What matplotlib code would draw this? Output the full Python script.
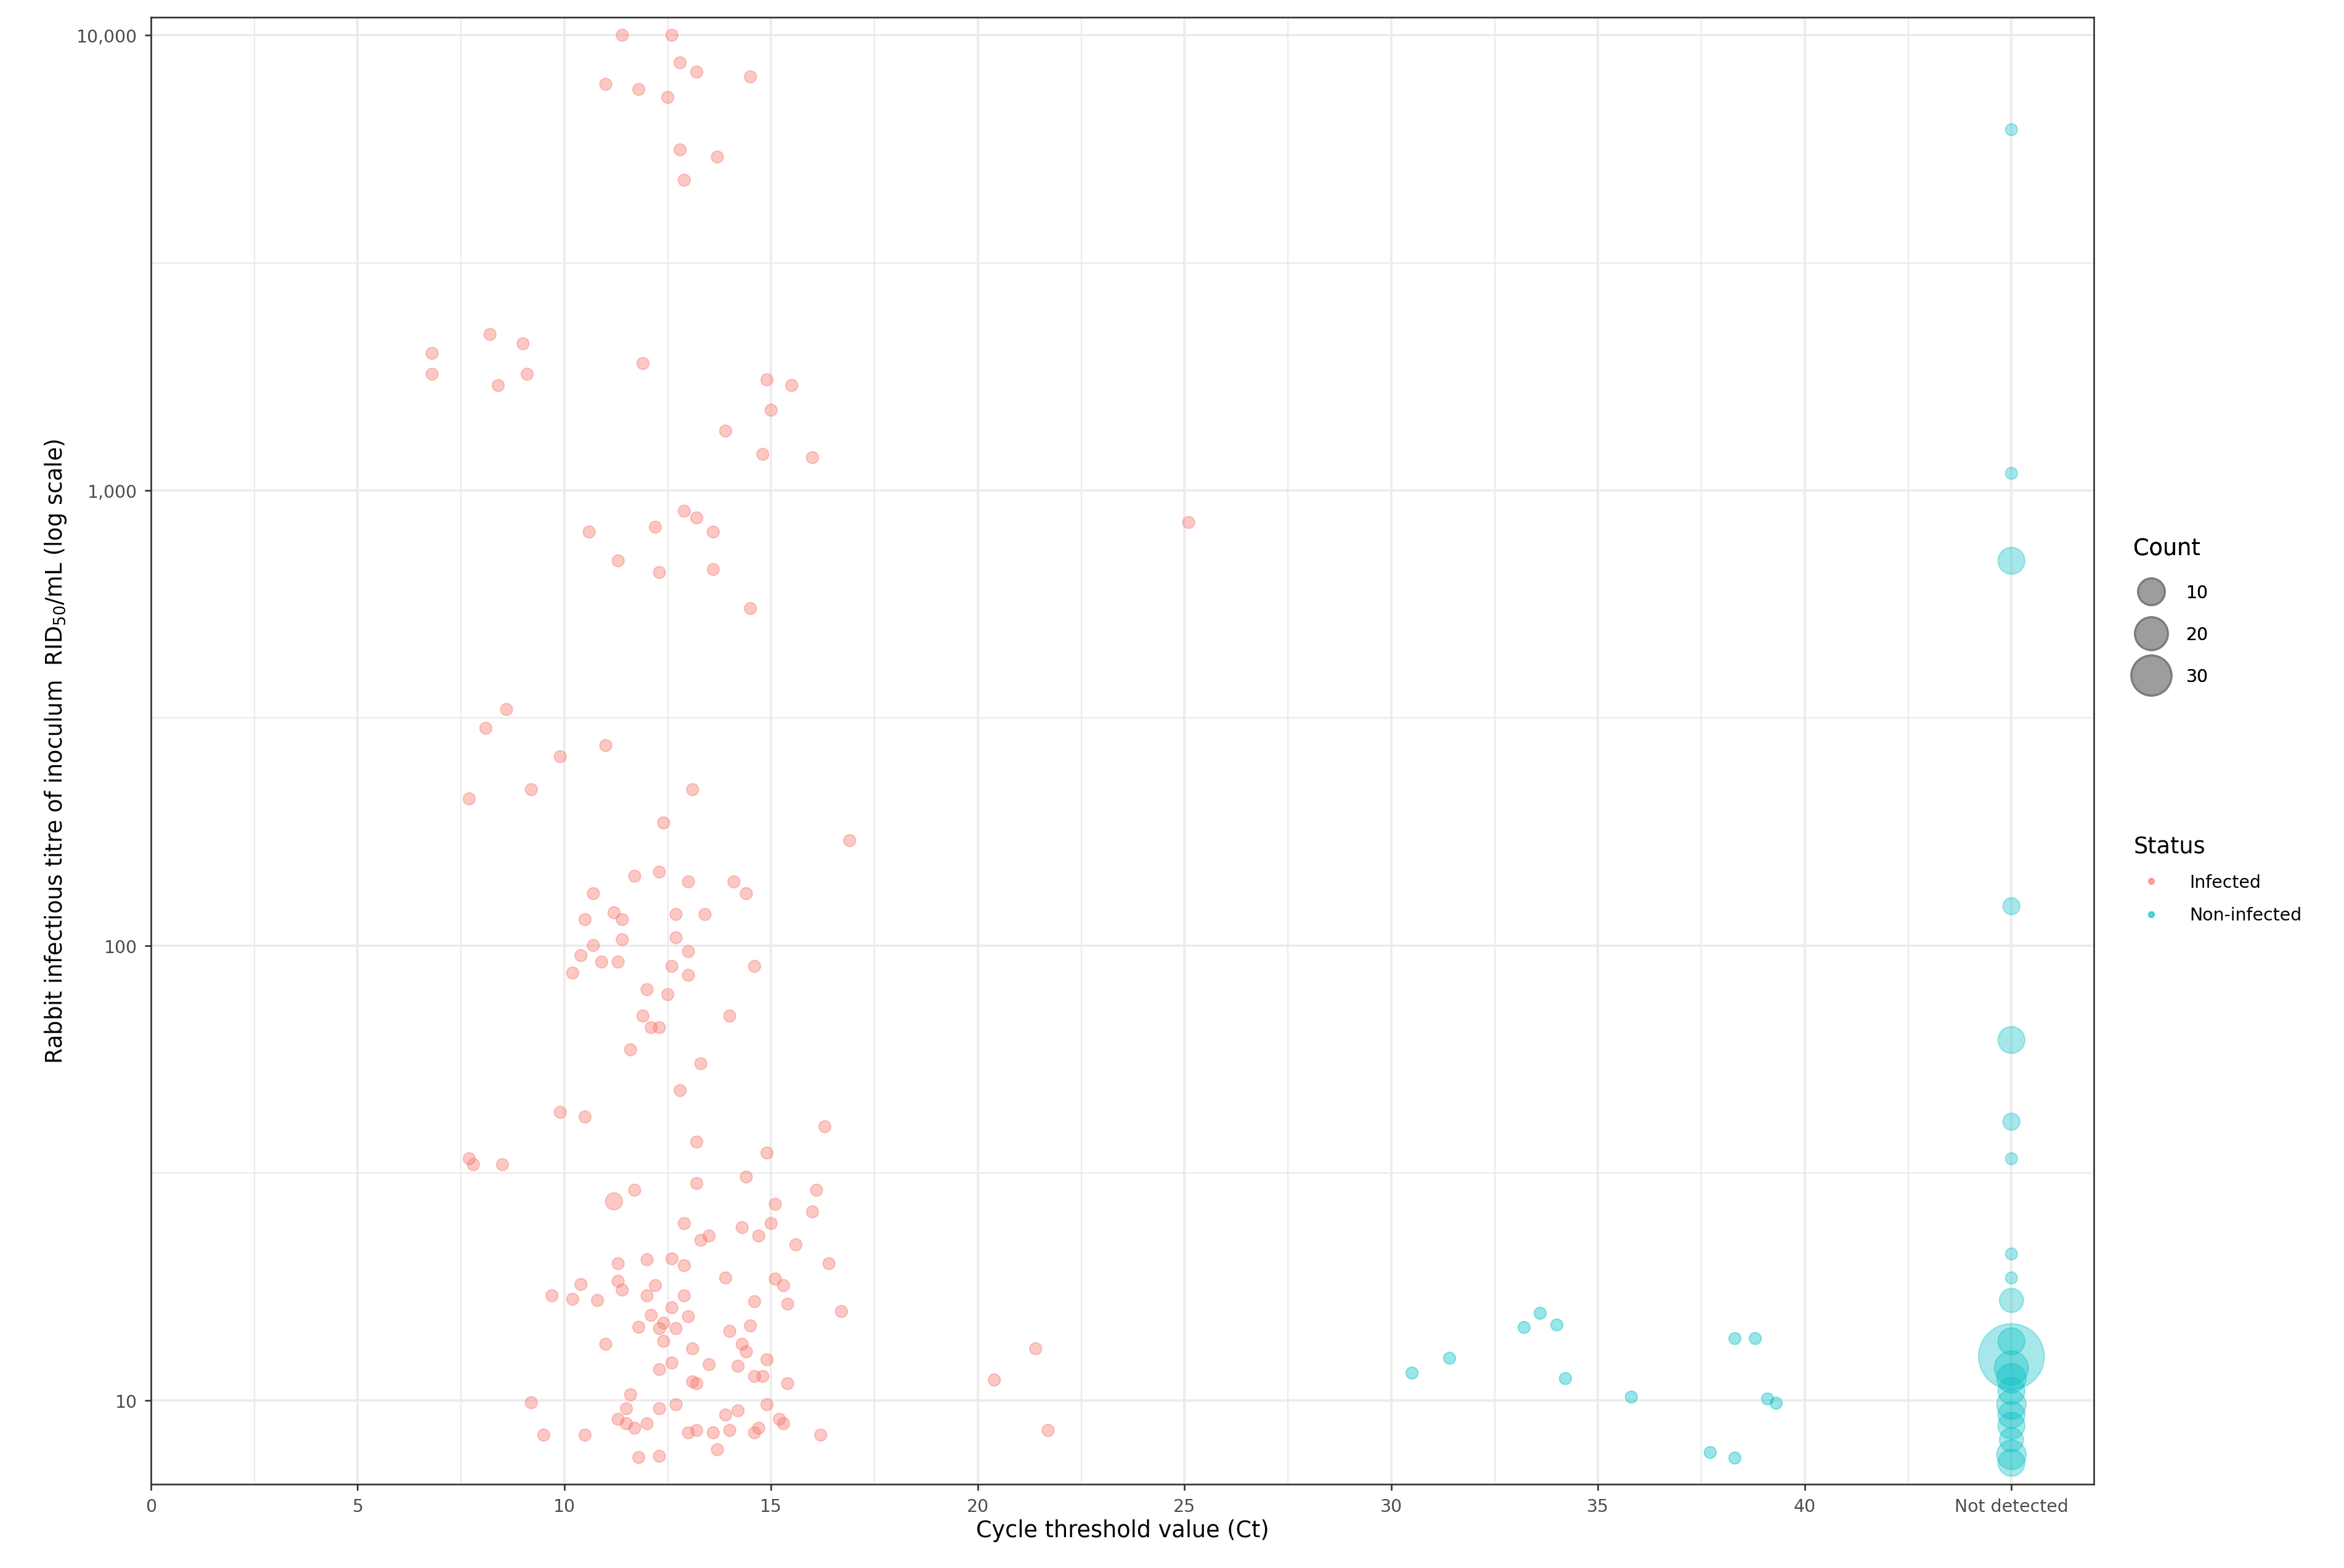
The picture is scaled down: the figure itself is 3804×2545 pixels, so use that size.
import numpy as np
import matplotlib.pyplot as plt
from matplotlib.lines import Line2D
from matplotlib.ticker import FixedLocator, NullFormatter

# Infected samples: Ct value and titre
inf_ct = [11.4, 12.6, 12.8, 13.2, 14.5, 11.0, 11.8, 12.5, 12.8, 13.7, 12.9,
          6.8, 6.8, 8.2, 9.0, 8.4, 9.1, 11.9, 14.9, 15.5, 15.0, 13.9, 14.8, 16.0,
          12.9, 13.2, 10.6, 12.2, 13.6, 11.3, 12.3, 13.6, 14.5, 25.1,
          8.1, 8.6, 11.0, 9.9, 7.7, 9.2, 13.1, 12.4, 16.9,
          11.7, 12.3, 13.0, 14.1, 14.4, 10.7, 11.2, 11.4, 10.5, 12.7, 13.4, 12.7, 11.4,
          10.7, 10.4, 10.9, 11.3, 13.0, 12.6, 14.6, 10.2, 13.0, 12.0, 12.5, 11.9, 14.0,
          12.1, 12.3, 11.6, 13.3, 12.8, 9.9, 10.5, 16.3, 7.7, 7.8, 8.5, 13.2, 14.9, 14.4,
          11.7, 13.2, 16.1, 15.1, 16.0, 12.9, 14.3, 15.0, 13.5, 13.3, 14.7, 15.6,
          12.6, 12.0, 12.9, 11.3, 16.4, 13.9, 10.4, 11.3, 12.2, 15.1, 15.3,
          9.7, 10.2, 10.8, 11.4, 12.0, 12.9, 14.6, 15.4, 16.7, 12.6, 12.1, 13.0, 12.4,
          11.8, 12.3, 12.7, 14.5, 14.0, 11.0, 12.4, 13.1, 14.3, 14.4, 14.9, 12.6, 13.5,
          14.2, 12.3, 13.1, 13.2, 14.6, 14.8, 15.4, 11.6, 11.5, 12.7, 12.3, 13.9, 14.2,
          14.9, 9.2, 11.3, 11.5, 11.7, 12.0, 13.0, 13.2, 13.6, 14.0, 14.6, 14.7, 15.2,
          15.3, 9.5, 10.5, 16.2, 13.7, 11.8, 12.3, 20.4, 21.4, 21.7, 11.2]
inf_titre = [10000, 10000, 8700, 8300, 8100, 7800, 7600, 7300, 5600, 5400, 4800,
             2000, 1800, 2200, 2100, 1700, 1800, 1900, 1750, 1700, 1500, 1350, 1200, 1180,
             900, 870, 810, 830, 810, 700, 660, 670, 550, 850,
             300, 330, 275, 260, 210, 220, 220, 186, 170,
             142, 145, 138, 138, 130, 130, 118, 114, 114, 117, 117, 104, 103,
             100, 95, 92, 92, 97, 90, 90, 87, 86, 80, 78, 70, 70,
             66, 66, 59, 55, 48, 43, 42, 40, 34, 33, 33, 37, 35, 31,
             29, 30, 29, 27, 26, 24.5, 24, 24.5, 23, 22.5, 23, 22,
             20.5, 20.4, 19.8, 20, 20, 18.6, 18, 18.3, 17.9, 18.5, 17.9,
             17, 16.7, 16.6, 17.5, 17, 17, 16.5, 16.3, 15.7, 16, 15.4, 15.3, 14.8,
             14.5, 14.4, 14.4, 14.6, 14.2, 13.3, 13.5, 13.0, 13.3, 12.8, 12.3, 12.1, 12.0,
             11.9, 11.7, 11.0, 10.9, 11.3, 11.3, 10.9, 10.3, 9.6, 9.8, 9.6, 9.3, 9.5,
             9.8, 9.9, 9.1, 8.9, 8.7, 8.9, 8.5, 8.6, 8.5, 8.6, 8.5, 8.7, 9.1,
             8.9, 8.4, 8.4, 8.4, 7.8, 7.5, 7.55, 11.1, 13.0, 8.6, 27.4]
inf_count = [1] * (len(inf_ct) - 1) + [2]

# Non-infected samples with a Ct value
non_ct = [30.5, 31.4, 33.2, 33.6, 34.0, 34.2, 35.8, 37.7, 38.3, 38.3, 38.8, 39.1, 39.3]
non_titre = [11.5, 12.4, 14.5, 15.6, 14.7, 11.2, 10.2, 7.7, 13.7, 7.5, 13.7, 10.1, 9.9]

# Non-infected, not detected (plotted at x = 45)
nd_titre = [6200, 1090, 700, 122, 62, 41, 34, 21, 18.6, 16.6,
            13.5, 12.5, 11.8, 11.2, 10.5, 9.8, 9.3, 8.8, 8.2, 7.6, 7.3]
nd_count = [1, 1, 5, 2, 5, 2, 1, 1, 1, 4,
            5, 30, 8, 6, 5, 6, 5, 5, 4, 6, 5]
ND_X = 45

RED = '#F8766D'
CYAN = '#00BFC4'
S1 = 34

fig = plt.figure(figsize=(15.85, 10.6083), dpi=240)
ax = fig.add_axes([0.0644, 0.0534, 0.829, 0.9352])

ax.scatter(inf_ct, inf_titre, s=np.array(inf_count) * S1, color=RED, alpha=0.4,
           edgecolors=RED, linewidths=0.6, zorder=3)
ax.scatter(non_ct, non_titre, s=S1, color=CYAN, alpha=0.4,
           edgecolors=CYAN, linewidths=0.6, zorder=3)
ax.scatter([ND_X] * len(nd_titre), nd_titre, s=np.array(nd_count) * S1, color=CYAN,
           alpha=0.35, edgecolors=CYAN, linewidths=0.6, zorder=3)

ax.set_yscale('log')
ax.set_xlim(0, 47)
ax.set_ylim(6.55, 10950)
ax.set_xticks([0, 5, 10, 15, 20, 25, 30, 35, 40, 45])
ax.set_xticklabels(['0', '5', '10', '15', '20', '25', '30', '35', '40', 'Not detected'])
ax.set_xticks([2.5, 7.5, 12.5, 17.5, 22.5, 27.5, 32.5, 37.5, 42.5], minor=True)
ax.set_yticks([10, 100, 1000, 10000])
ax.set_yticklabels(['10', '100', '1,000', '10,000'])
ax.yaxis.set_minor_locator(FixedLocator([10 ** 1.5, 10 ** 2.5, 10 ** 3.5]))
ax.yaxis.set_minor_formatter(NullFormatter())
ax.grid(True, which='major', color='#EBEBEB', linewidth=1.1)
ax.grid(True, which='minor', color='#EBEBEB', linewidth=0.7)
ax.set_axisbelow(True)
ax.tick_params(which='minor', length=0)
ax.tick_params(which='major', length=3, color='#333333', labelsize=8.5, labelcolor='#4D4D4D')
for sp in ax.spines.values():
    sp.set_color('#333333')
    sp.set_linewidth(0.8)

ax.set_xlabel('Cycle threshold value (Ct)', fontsize=11, labelpad=2)
ax.set_ylabel('Rabbit infectious titre of inoculum  RID$_{50}$/mL (log scale)', fontsize=11)

# Count legend
count_handles = [Line2D([], [], marker='o', linestyle='', markerfacecolor='#999999',
                        markeredgecolor='#777777', alpha=0.8, markersize=m)
                 for m in [13, 16, 19.5]]
leg1 = fig.legend(count_handles, ['10', '20', '30'], title='Count',
                  loc='upper left', bbox_to_anchor=(0.905, 0.665), frameon=False,
                  fontsize=8.5, title_fontsize=11, alignment='left',
                  labelspacing=1.4, handletextpad=1.0, borderpad=0.2)
status_handles = [Line2D([], [], marker='o', linestyle='', color=c, alpha=0.6, markersize=2.5)
                  for c in [RED, CYAN]]
fig.legend(status_handles, ['Infected', 'Non-infected'], title='Status',
           loc='upper left', bbox_to_anchor=(0.905, 0.475), frameon=False,
           fontsize=8.5, title_fontsize=11, alignment='left',
           labelspacing=0.9, handletextpad=1.2, borderpad=0.2)
fig.add_artist(leg1)

fig.savefig('out.png', dpi=240)
